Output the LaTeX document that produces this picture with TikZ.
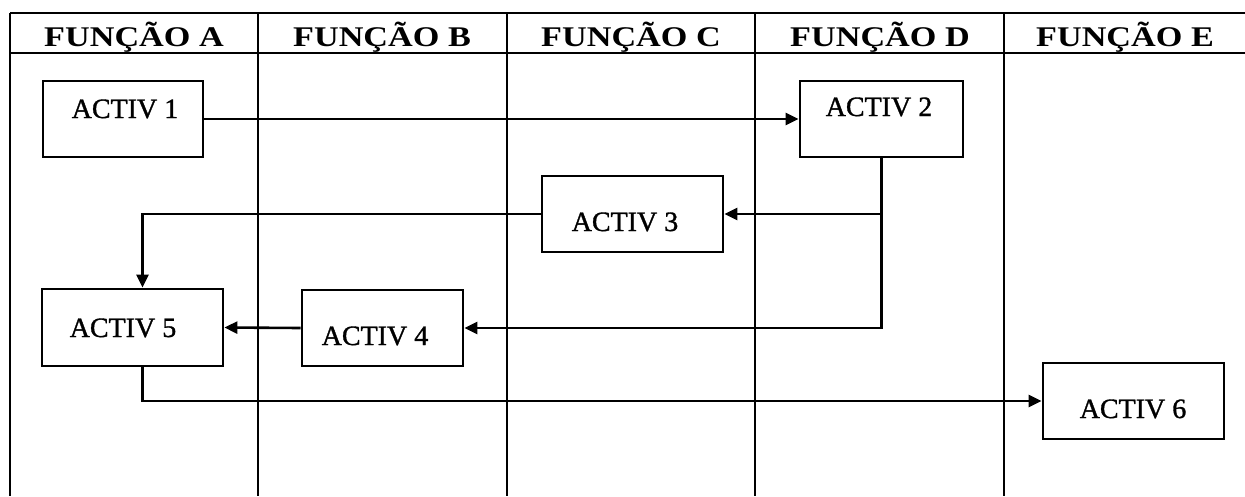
\documentclass[tikz,border=0pt]{standalone}
\usepackage{fontspec}
\setmainfont{Liberation Serif}
\newfontfamily\hdrfont{Liberation Serif}[FakeStretch=1.2]
\newfontfamily\actfont{Liberation Serif}[FakeBold=1.2]
\usetikzlibrary{arrows.meta}
\tikzset{
  grid/.style={line width=2.6pt},
  actbox/.style={draw, line width=2.8pt, rectangle, inner sep=0pt},
  acttext/.style={anchor=base, inner sep=0pt, font=\actfont\fontsize{28}{30}\selectfont},
  hdr/.style={anchor=base, inner sep=0pt, font=\hdrfont\bfseries\fontsize{28.5}{30}\selectfont},
  arr/.style={line width=2.6pt, -{Triangle[length=13pt,width=12pt]}},
  conn/.style={line width=2.6pt}
}
\begin{document}
\begin{tikzpicture}[x=1pt,y=-1pt]
\useasboundingbox (0,0) rectangle (1245,496);
% frame
\draw[grid] (10,13) -- (1245,13);
\draw[grid] (10,53) -- (1245,53);
\foreach \x in {10,258,507,755,1004}{\draw[grid] (\x,13) -- (\x,496);}
% headers
\node[hdr] (hA) at (134,46) {FUNÇÃO A};
\node[hdr] (hB) at (382,46) {FUNÇÃO B};
\node[hdr] (hC) at (631,46) {FUNÇÃO C};
\node[hdr] (hD) at (880,46) {FUNÇÃO D};
\node[hdr] (hE) at (1125,46) {FUNÇÃO E};
% boxes
\node[actbox, minimum width=160pt, minimum height=76pt] (a1) at (123,119) {};
\node[actbox, minimum width=163pt, minimum height=76pt] (a2) at (881.5,119) {};
\node[actbox, minimum width=181pt, minimum height=76pt] (a3) at (632.5,214) {};
\node[actbox, minimum width=161pt, minimum height=76pt] (a4) at (382.5,328) {};
\node[actbox, minimum width=181pt, minimum height=77pt] (a5) at (132.5,327.5) {};
\node[actbox, minimum width=181pt, minimum height=76pt] (a6) at (1133.5,401) {};
% texts
\node[acttext] (t1) at (125,118) {ACTIV 1};
\node[acttext] (t2) at (879,116) {ACTIV 2};
\node[acttext] (t3) at (625,231) {ACTIV 3};
\node[acttext] (t4) at (375,345) {ACTIV 4};
\node[acttext] (t5) at (123,337) {ACTIV 5};
\node[acttext] (t6) at (1133,418) {ACTIV 6};
% connectors
\draw[arr] (a1.east) -- (a2.west);
\draw[arr] (a2.south) |- (a3.east);
\draw[arr] (a2.south) |- (a4.east);
\draw[arr] (a3.west) -| ([xshift=10pt]a5.north);
\draw[arr] (a4.west) -- (a5.east);
\draw[arr] ([xshift=10pt]a5.south) |- (a6.west);
\end{tikzpicture}
\end{document}
